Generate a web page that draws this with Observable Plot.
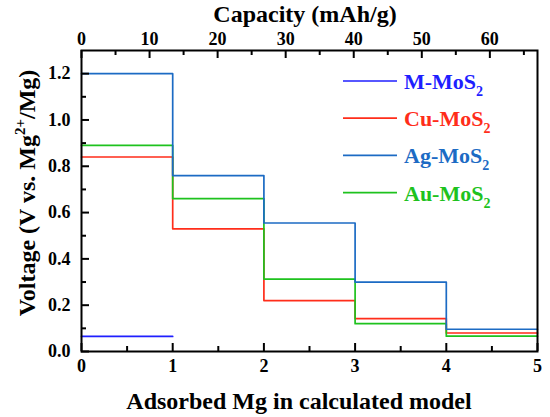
<!DOCTYPE html>
<html><head><meta charset="utf-8">
<script src="https://cdn.jsdelivr.net/npm/d3@7"></script>
<script src="https://cdn.jsdelivr.net/npm/@observablehq/plot@0.6"></script>
<style>
body{margin:0;background:#fff;font-family:"Liberation Serif","Times New Roman",serif;font-weight:bold}
#wrap{width:550px;height:417px;position:relative}
.ttl{width:550px;font-size:24px;color:#000;white-space:nowrap;position:relative}
#top{height:26px;line-height:26px}
#top span{position:absolute;left:305px;top:1px;transform:translateX(-50%)}
#bottom{height:24px;line-height:24px}
#bottom span{position:absolute;left:299px;top:-4px;transform:translateX(-50%)}
#chart svg{display:block}
</style>
</head><body><div id="wrap">
<div id="top" class="ttl"><span>Capacity (mAh/g)</span></div>
<div id="chart"></div>
<div id="bottom" class="ttl"><span>Adsorbed Mg in calculated model</span></div>
</div>
<script>
// ---- data ----
const mgSteps = [0, 1, 2, 3, 4, 5];
const seriesNames = ["M-MoS2", "Cu-MoS2", "Ag-MoS2", "Au-MoS2"];
const seriesColors = ["#1f1fff", "#ff2d1a", "#1c6bc4", "#1ec21e"];
const mMoS2 = [0.065];
const cuMoS2 = [0.84, 0.53, 0.22, 0.142, 0.08];
const agMoS2 = [1.2, 0.76, 0.555, 0.30, 0.096];
const auMoS2 = [0.89, 0.66, 0.313, 0.12, 0.066];
const capacityPerMg = 13.4; // mAh/g per adsorbed Mg (top axis)
const capacityTicks = [0, 10, 20, 30, 40, 50, 60];
const capacityMinor = [5, 15, 25, 35, 45, 55, 65];
const voltageTicks = [0, 0.2, 0.4, 0.6, 0.8, 1.0, 1.2];
const voltageMinor = [0.1, 0.3, 0.5, 0.7, 0.9, 1.1];
const mgTicks = [0, 1, 2, 3, 4, 5];
const mgMinor = [0.5, 1.5, 2.5, 3.5, 4.5];

// ---- layout ----
const topH = 26, bottomH = 24;
const W = 550, H = 417 - topH - bottomH, mL = 81, mR = 13, mT = 50 - topH, mB = 417 - bottomH - 351;
const innerW = W - mL - mR, innerH = H - mT - mB;
const FONT = "Liberation Serif";

function steps(name, vals) {
  const rows = vals.map((v, i) => ({series: name, mg: mgSteps[i], v}));
  rows.push({series: name, mg: mgSteps[vals.length], v: vals[vals.length - 1]});
  return rows;
}
const seriesData = {
  "M-MoS2": steps("M-MoS2", mMoS2),
  "Cu-MoS2": steps("Cu-MoS2", cuMoS2),
  "Ag-MoS2": steps("Ag-MoS2", agMoS2),
  "Au-MoS2": steps("Au-MoS2", auMoS2)
};
const drawOrder = ["M-MoS2", "Cu-MoS2", "Au-MoS2", "Ag-MoS2"];
const colorOf = Object.fromEntries(seriesNames.map((n, i) => [n, seriesColors[i]]));

const tickStyle = {stroke: "black", strokeWidth: 2};
const majorLen = 8, minorLen = 5;
const labelFont = {fontFamily: FONT, fontWeight: "bold", fontSize: 18};

const chart = Plot.plot({
  width: W, height: H,
  marginLeft: mL, marginRight: mR, marginTop: mT, marginBottom: mB,
  x: {domain: [0, 5]},
  y: {domain: [0, 1.3]},
  marks: [
    ...drawOrder.map(n => Plot.line(seriesData[n], {x: "mg", y: "v", curve: "step-after", stroke: colorOf[n], strokeWidth: 1.7})),
    Plot.tickX(mgTicks, {x: d => d, insetTop: innerH - majorLen, ...tickStyle}),
    Plot.tickX(mgMinor, {x: d => d, insetTop: innerH - minorLen, ...tickStyle}),
    Plot.tickX(capacityTicks.map(c => c / capacityPerMg), {x: d => d, insetBottom: innerH - majorLen, ...tickStyle}),
    Plot.tickX(capacityMinor.map(c => c / capacityPerMg), {x: d => d, insetBottom: innerH - minorLen, ...tickStyle}),
    Plot.tickY(voltageTicks, {y: d => d, insetRight: innerW - majorLen, ...tickStyle}),
    Plot.tickY(voltageMinor, {y: d => d, insetRight: innerW - minorLen, ...tickStyle}),
    Plot.axisX(mgTicks, {anchor: "bottom", tickSize: 0, tickPadding: 8, label: null, tickFormat: d => String(d), ...labelFont}),
    Plot.axisX(capacityTicks.map(c => c / capacityPerMg), {anchor: "top", tickSize: 0, tickPadding: 6, label: null,
      tickFormat: d => String(Math.round(d * capacityPerMg)), ...labelFont}),
    Plot.axisY(voltageTicks, {anchor: "left", tickSize: 0, tickPadding: 11, label: null, tickFormat: d => d.toFixed(1), ...labelFont}),
    Plot.frame({stroke: "black", strokeWidth: 2})
  ]
});
document.getElementById("chart").appendChild(chart);

// ---- y title & legend (text with sub/superscripts) ----
const svg = d3.select(chart);
const g = svg.append("g");
function txt(sel) {
  return sel.append("text").attr("font-family", FONT).attr("font-weight", "bold").attr("fill", "black");
}
const yt = txt(g).attr("text-anchor", "middle").attr("font-size", 24)
  .attr("transform", `translate(35,${193 - topH}) rotate(-90)`);
yt.append("tspan").text("Voltage (V vs. Mg");
yt.append("tspan").attr("font-size", 15).attr("dy", -10).text("2+");
yt.append("tspan").attr("dy", 10).text("/Mg)");

const legX1 = 343, legX2 = 397, legTextX = 404, legY0 = 81 - topH, legDy = 37.2;
seriesNames.forEach((n, i) => {
  const y = legY0 + i * legDy;
  g.append("line").attr("x1", legX1).attr("x2", legX2).attr("y1", y).attr("y2", y)
    .attr("stroke", colorOf[n]).attr("stroke-width", 1.7);
  const t = txt(g).attr("x", legTextX).attr("y", y + 8).attr("text-anchor", "start")
    .attr("font-size", 22).attr("fill", colorOf[n]);
  t.append("tspan").text(n.slice(0, -1));
  t.append("tspan").attr("font-size", 14).attr("dy", 7).text(n.slice(-1));
});
</script>
</body></html>
